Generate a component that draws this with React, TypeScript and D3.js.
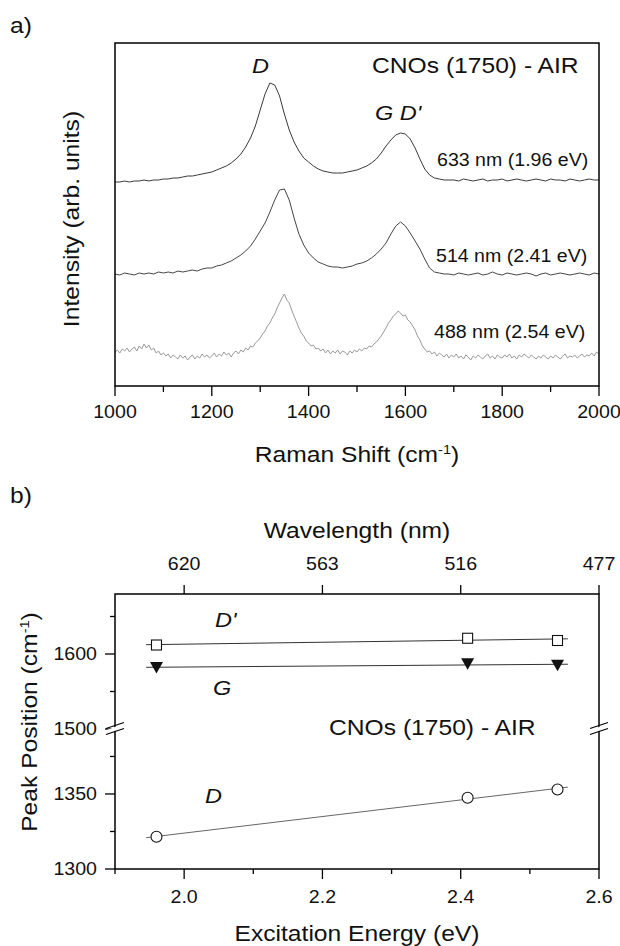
import React from 'react';
import * as d3 from 'd3';

// ---- panel a) : Raman spectra (intensity, arb. units, offsets included) ----
// 633 and 514 sampled every 10 cm-1, 488 every 5 cm-1, 1000..2000
const shift10 = d3.range(1000, 2001, 10);
const shift5 = d3.range(1000, 2001, 5);

const spectrum633 = [
  204, 204, 205, 204, 205, 205, 206, 205, 206, 206,
  207, 207, 208, 208, 209, 210, 210, 211, 212, 213,
  214, 216, 218, 220, 223, 227, 232, 239, 248, 260,
  276, 292, 303, 301, 290, 272, 256, 244, 235, 228,
  224, 220, 217, 215, 214, 213, 213, 213, 214, 215,
  216, 218, 220, 223, 227, 233, 240, 246, 251, 253,
  252, 247, 238, 227, 217, 211, 208, 207, 206, 206,
  206, 205, 207, 206, 205, 206, 207, 205, 206, 206,
  207, 205, 206, 207, 206, 205, 206, 207, 206, 205,
  207, 206, 206, 205, 207, 206, 205, 206, 207, 206,
  206,
];

const spectrum514 = [
  112, 111, 113, 112, 111, 113, 112, 113, 112, 114,
  113, 114, 113, 115, 114, 115, 116, 115, 117, 118,
  118, 120, 121, 123, 125, 128, 131, 135, 140, 147,
  155, 163, 174, 186, 196, 197, 186, 168, 152, 141,
  133, 128, 124, 122, 120, 119, 119, 118, 119, 120,
  122, 123, 125, 128, 132, 137, 143, 152, 160, 164,
  160, 153, 145, 137, 127, 118, 114, 113, 112, 112,
  111, 113, 112, 111, 112, 113, 111, 112, 114, 112,
  111, 113, 112, 111, 112, 113, 112, 110, 112, 113,
  111, 112, 113, 112, 111, 112, 113, 112, 111, 113,
  112,
];

const spectrum488 = [
  34, 36, 33, 37, 35, 38, 34, 37, 39, 35, 40, 37, 42, 38, 41, 36, 38, 33, 35, 31,
  33, 30, 32, 28, 31, 29, 27, 31, 28, 30, 26, 29, 31, 27, 30, 28, 32, 29, 31, 28,
  30, 33, 29, 32, 30, 34, 31, 33, 29, 33, 35, 32, 36, 34, 38, 36, 40, 39, 43, 45,
  48, 52, 55, 60, 63, 68, 72, 78, 83, 88, 92, 86, 83, 76, 70, 64, 58, 53, 50, 45,
  43, 40, 41, 37, 38, 35, 37, 33, 36, 32, 35, 33, 36, 32, 35, 34, 31, 35, 33, 36,
  34, 37, 35, 38, 37, 40, 39, 42, 44, 47, 50, 54, 58, 63, 66, 70, 72, 75, 73, 70,
  71, 66, 64, 60, 56, 50, 46, 40, 37, 34, 35, 32, 34, 30, 33, 31, 29, 32, 28, 31,
  29, 32, 28, 30, 27, 31, 29, 26, 30, 28, 31, 29, 27, 30, 32, 28, 30, 27, 31, 29,
  28, 31, 29, 32, 28, 30, 27, 31, 29, 32, 30, 28, 31, 29, 27, 30, 28, 31, 29, 27,
  30, 28, 31, 29, 27, 30, 32, 28, 30, 29, 31, 28, 30, 32, 29, 31, 30, 33, 30, 34,
  32,
];

const spectraLabels = ['633 nm (1.96 eV)', '514 nm (2.41 eV)', '488 nm (2.54 eV)'];

// ---- panel b) : peak positions vs excitation energy ----
const energies = [1.96, 2.41, 2.54];
const dPrimePeak = [1612, 1621, 1618];
const gPeak = [1582, 1587, 1585];
const dPeak = [1321.5, 1347.5, 1353];
const fitExtent = [1.945, 2.555];
const energyTicks = [2.0, 2.2, 2.4, 2.6];
const energyMinor = [1.9, 2.1, 2.3, 2.5];
const wavelengthLabels = ['620', '563', '516', '477'];
const upperTicks = [1500, 1600];
const upperMinor = [1550, 1650];
const lowerTicks = [1300, 1350];
const lowerMinor = [1325, 1375];

const FONT = '"Liberation Sans", Arial, Helvetica, sans-serif';
const SX = 1.12; // glyphs in the figure run a bit wider than Arial

function Txt({ x, y, size, anchor = 'start', italic = false, rotate = 0, children }: any) {
  const tr = `translate(${x},${y})` + (rotate ? ` rotate(${rotate})` : '') + ` scale(${SX},1)`;
  return (
    <text transform={tr} fontSize={size} textAnchor={anchor} fontFamily={FONT}
      fontStyle={italic ? 'italic' : 'normal'} fill="#111">
      {children}
    </text>
  );
}

function linFit(xs: number[], ys: number[]) {
  const mx = d3.mean(xs)!, my = d3.mean(ys)!;
  const sxy = d3.sum(xs, (x, i) => (x - mx) * (ys[i] - my));
  const sxx = d3.sum(xs, x => (x - mx) ** 2);
  const b = sxy / sxx;
  return (x: number) => my + b * (x - mx);
}

export default function App() {
  // panel a scales
  const xA = d3.scaleLinear().domain([1000, 2000]).range([115, 599]);
  const yA = d3.scaleLinear().domain([0, 343]).range([386, 43]);
  const lineA = (grid: number[]) => d3.line<number>().x((_, i) => xA(grid[i])).y(d => yA(d));

  // panel b scales (broken y axis)
  const xB = d3.scaleLinear().domain([1.9, 2.6]).range([115, 599]);
  const yUp = d3.scaleLinear().domain([1500, 1680]).range([729, 594]);
  const yLo = d3.scaleLinear().domain([1300, 1393.3]).range([869, 729]);
  const breakY = yUp(1500);

  const fitLine = (ys: number[], y: any) => {
    const f = linFit(energies, ys);
    return d3.line<number>().x(e => xB(e)).y(e => y(f(e)))(fitExtent)!;
  };

  const spectra = [
    { data: spectrum633, grid: shift10, color: '#3a3a3a', lx: 437, ly: 166 },
    { data: spectrum514, grid: shift10, color: '#454545', lx: 436, ly: 262 },
    { data: spectrum488, grid: shift5, color: '#9a9a9a', lx: 434, ly: 338 },
  ];

  const breakMark = (x: number) => (
    <g key={x}>
      <polygon points={`${x - 8},${breakY + 1} ${x + 8},${breakY - 5} ${x + 8},${breakY - 1} ${x - 8},${breakY + 5}`} fill="#fff" />
      <line x1={x - 9} y1={breakY - 0.5} x2={x + 9} y2={breakY - 6.5} stroke="#000" strokeWidth={1.3} />
      <line x1={x - 9} y1={breakY + 5.5} x2={x + 9} y2={breakY - 0.5} stroke="#000" strokeWidth={1.3} />
    </g>
  );

  return (
    <svg width={620} height={946} style={{ position: 'absolute', left: 0, top: 0, background: '#fff' }}>
      {/* ================= a) ================= */}
      <Txt x={10} y={33} size={22}>a)</Txt>
      {spectra.map((s, i) => (
        <path key={i} d={lineA(s.grid)(s.data)!} fill="none" stroke={s.color} strokeWidth={1} />
      ))}
      <rect x={115} y={43} width={484} height={343} fill="none" stroke="#000" strokeWidth={1.5} />
      {xA.ticks(5).map(t => (
        <g key={t}>
          <line x1={xA(t)} x2={xA(t)} y1={386} y2={396} stroke="#000" strokeWidth={1.3} />
          <Txt x={xA(t)} y={418} size={17.5} anchor="middle">{t}</Txt>
        </g>
      ))}
      {d3.range(1100, 2000, 200).map(t => (
        <line key={t} x1={xA(t)} x2={xA(t)} y1={386} y2={392} stroke="#000" strokeWidth={1.3} />
      ))}
      <Txt x={357} y={462} size={22} anchor="middle">
        Raman Shift (cm<tspan dy={-8} fontSize={13}>-1</tspan><tspan dy={8} fontSize={22}>)</tspan>
      </Txt>
      <Txt x={79} y={219} size={22} anchor="middle" rotate={-90}>Intensity (arb. units)</Txt>
      <Txt x={252} y={73} size={21} italic>D</Txt>
      <Txt x={372} y={73} size={22}>CNOs (1750) - AIR</Txt>
      <Txt x={375} y={120} size={21} italic>G D'</Txt>
      {spectra.map((s, i) => (
        <Txt key={i} x={s.lx} y={s.ly} size={17.5}>{spectraLabels[i]}</Txt>
      ))}

      {/* ================= b) ================= */}
      <Txt x={10} y={503} size={22}>b)</Txt>
      <Txt x={357} y={538} size={22} anchor="middle">Wavelength (nm)</Txt>
      {energyTicks.map((t, i) => (
        <g key={t}>
          <line x1={xB(t)} x2={xB(t)} y1={594} y2={585} stroke="#000" strokeWidth={1.3} />
          <Txt x={xB(t)} y={570} size={17.5} anchor="middle">{wavelengthLabels[i]}</Txt>
          <line x1={xB(t)} x2={xB(t)} y1={869} y2={879} stroke="#000" strokeWidth={1.3} />
          <Txt x={xB(t)} y={903} size={17.5} anchor="middle">{t.toFixed(1)}</Txt>
        </g>
      ))}
      {energyMinor.map(t => (
        <line key={t} x1={xB(t)} x2={xB(t)} y1={869} y2={874} stroke="#000" strokeWidth={1.3} />
      ))}

      {/* fit lines */}
      <path d={fitLine(dPrimePeak, yUp)} fill="none" stroke="#333" strokeWidth={1} />
      <path d={fitLine(gPeak, yUp)} fill="none" stroke="#333" strokeWidth={1} />
      <path d={fitLine(dPeak, yLo)} fill="none" stroke="#666" strokeWidth={1} />

      {/* markers */}
      {energies.map((e, i) => (
        <g key={e}>
          <rect x={xB(e) - 5} y={yUp(dPrimePeak[i]) - 5} width={10} height={10} fill="#fff" stroke="#111" strokeWidth={1.1} />
          <path d={`M${xB(e) - 6.5},${yUp(gPeak[i]) - 5.5} L${xB(e) + 6.5},${yUp(gPeak[i]) - 5.5} L${xB(e)},${yUp(gPeak[i]) + 6} Z`} fill="#111" />
          <circle cx={xB(e)} cy={yLo(dPeak[i])} r={5.5} fill="#fff" stroke="#111" strokeWidth={1.1} />
        </g>
      ))}

      <rect x={115} y={594} width={484} height={275} fill="none" stroke="#000" strokeWidth={1.5} />
      {upperTicks.map(t => (
        <g key={t}>
          <line x1={105} x2={115} y1={yUp(t)} y2={yUp(t)} stroke="#000" strokeWidth={1.3} />
          <Txt x={97} y={yUp(t) + 6} size={17.5} anchor="end">{t}</Txt>
        </g>
      ))}
      {upperMinor.map(t => (
        <line key={t} x1={110} x2={115} y1={yUp(t)} y2={yUp(t)} stroke="#000" strokeWidth={1.3} />
      ))}
      {lowerTicks.map(t => (
        <g key={t}>
          <line x1={105} x2={115} y1={yLo(t)} y2={yLo(t)} stroke="#000" strokeWidth={1.3} />
          <Txt x={97} y={yLo(t) + 6} size={17.5} anchor="end">{t}</Txt>
        </g>
      ))}
      {lowerMinor.map(t => (
        <line key={t} x1={110} x2={115} y1={yLo(t)} y2={yLo(t)} stroke="#000" strokeWidth={1.3} />
      ))}
      {[115, 599].map(breakMark)}

      <Txt x={215} y={627} size={21} italic>D'</Txt>
      <Txt x={213} y={695} size={21} italic>G</Txt>
      <Txt x={329} y={735} size={22}>CNOs (1750) - AIR</Txt>
      <Txt x={205} y={803} size={21} italic>D</Txt>
      <Txt x={37} y={722} size={22} anchor="middle" rotate={-90}>
        Peak Position (cm<tspan dy={-8} fontSize={13}>-1</tspan><tspan dy={8} fontSize={22}>)</tspan>
      </Txt>
      <Txt x={357} y={941} size={22} anchor="middle">Excitation Energy (eV)</Txt>
    </svg>
  );
}
